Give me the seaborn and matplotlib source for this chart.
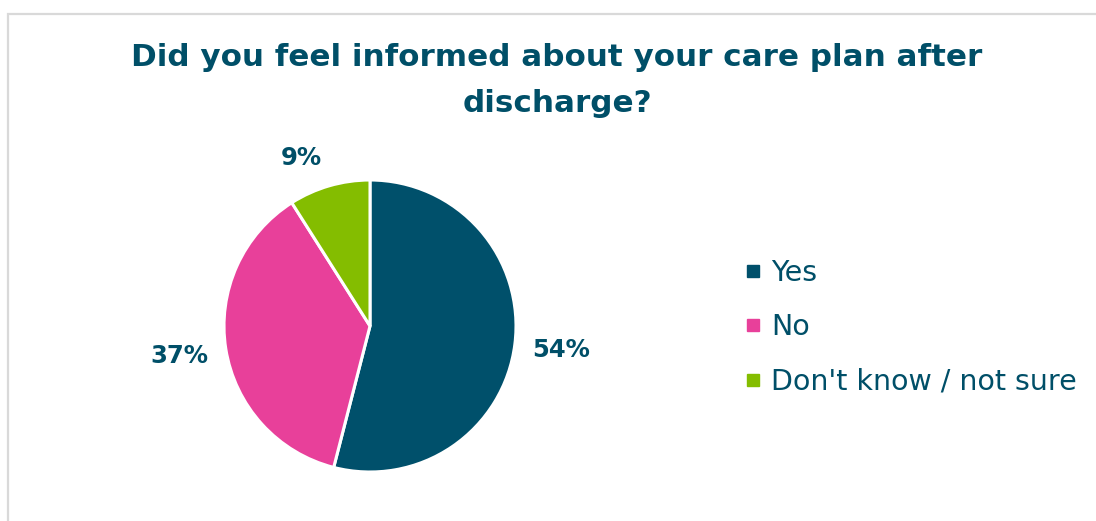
import matplotlib
matplotlib.use("Agg")
import numpy as np
import matplotlib.pyplot as plt
from matplotlib.lines import Line2D
from matplotlib.patches import Rectangle
import seaborn as sns

# Survey responses
categories = ["Yes", "No", "Don't know / not sure"]
shares = [54, 37, 9]
title = "Did you feel informed about your care plan after\ndischarge?"

colors = ["#00506B", "#E8409A", "#84BD00"]
text_color = "#004F68"

sns.set_theme(style="white")
plt.rcParams["font.family"] = ["DejaVu Sans"]

fig = plt.figure(figsize=(10.96, 5.21), dpi=100)

# light frame around the chart area
fig.patches.append(Rectangle((8 / 1096, -0.05), 1.2, (521 - 14) / 521 + 0.05,
                             transform=fig.transFigure, fill=False,
                             edgecolor="#D9D9D9", linewidth=1.6))

fig.text(557 / 1096, 1 - 43 / 521, title, ha="center", va="top",
         fontsize=22.3, fontweight="bold", color=text_color, linespacing=1.75)

ax = fig.add_axes([(370 - 146) / 1096, (195 - 146) / 521, 292 / 1096, 292 / 521])
wedges, _, pct_texts = ax.pie(
    shares, colors=colors, startangle=90, counterclock=False,
    autopct="%.0f%%", pctdistance=1.32, radius=1,
    wedgeprops=dict(edgecolor="white", linewidth=2.2),
    textprops=dict(fontsize=17.5, fontweight="bold", color=text_color),
)

# the label of the narrow slice sits a little closer, nudged away from its neighbour
w, t = wedges[-1], pct_texts[-1]
ang = np.deg2rad((w.theta1 + w.theta2) / 2 + 6)
t.set_position((1.24 * np.cos(ang), 1.24 * np.sin(ang)))

ax.set_xlim(-1, 1)
ax.set_ylim(-1, 1)
ax.set_aspect("equal")
ax.axis("off")

handles = [Line2D([0], [0], marker="s", linestyle="none", markersize=9,
                  markerfacecolor=c, markeredgecolor=c) for c in colors]
leg = fig.legend(handles, categories, loc="center left",
                 bbox_to_anchor=(730 / 1096, 1 - 327 / 521), frameon=False,
                 fontsize=20.5, handlelength=0.6, handletextpad=0.35,
                 labelspacing=0.93, borderpad=0)
for t in leg.get_texts():
    t.set_color(text_color)

fig.savefig("out.png", dpi=100)
